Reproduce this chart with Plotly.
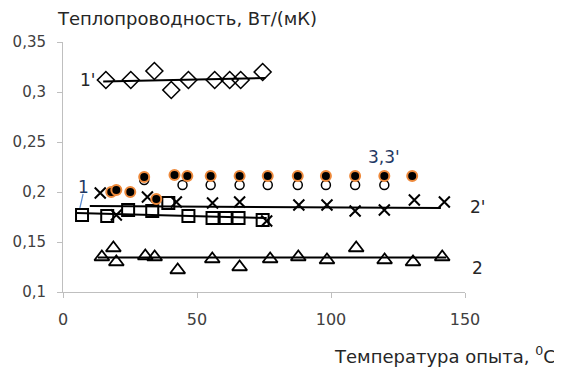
import plotly.graph_objects as go

# Series 1' (diamonds)
x1p = [16.0, 25.3, 34.1, 40.4, 46.8, 56.6, 62.2, 66.3, 74.5]
y1p = [0.312, 0.312, 0.321, 0.302, 0.312, 0.312, 0.312, 0.312, 0.320]
# Series 1 (squares)
x1 = [7.1, 16.5, 24.3, 33.3, 39.3, 46.8, 55.8, 60.7, 65.5, 74.5]
y1 = [0.177, 0.176, 0.182, 0.181, 0.189, 0.176, 0.174, 0.174, 0.174, 0.172]
# Series 2' (crosses)
x2p = [13.9, 19.9, 31.5, 42.3, 55.8, 65.9, 76.0, 88.0, 98.5, 109.0, 119.9, 131.1, 142.3]
y2p = [0.199, 0.177, 0.195, 0.190, 0.189, 0.190, 0.171, 0.187, 0.187, 0.181, 0.182, 0.192, 0.190]
# Series 2 (triangles)
x2 = [14.5, 18.8, 19.9, 30.7, 34.2, 42.8, 55.7, 65.9, 77.3, 87.8, 98.5, 109.4, 120.0, 130.6, 141.5]
y2 = [0.135, 0.144, 0.130, 0.136, 0.135, 0.122, 0.133, 0.125, 0.133, 0.135, 0.132, 0.144, 0.132, 0.130, 0.135]
# Series 3 (filled dots)
x3 = [18.0, 19.9, 25.1, 30.3, 34.8, 41.6, 46.4, 55.1, 65.9, 76.4, 87.6, 98.1, 109.0, 119.9, 130.3]
y3 = [0.200, 0.202, 0.200, 0.215, 0.193, 0.217, 0.216, 0.216, 0.216, 0.216, 0.216, 0.216, 0.216, 0.216, 0.216]
# Series 3' (open circles)
x3p = [30.3, 44.6, 55.1, 65.9, 76.4, 87.6, 98.1, 109.0, 119.9]
y3p = [0.212, 0.207, 0.207, 0.207, 0.207, 0.207, 0.207, 0.207, 0.207]

# Trend lines (endpoints)
t1p_x = [15.0, 75.5]; t1p_y = [0.3105, 0.314]
t1_x = [5.0, 76.0]; t1_y = [0.179, 0.174]
t2p_x = [10.0, 141.0]; t2p_y = [0.186, 0.184]
t2_x = [13.0, 143.0]; t2_y = [0.1345, 0.1345]

x_ticks = [0, 50, 100, 150]
y_ticks = [0.1, 0.15, 0.2, 0.25, 0.3, 0.35]
y_tick_text = ["0,1", "0,15", "0,2", "0,25", "0,3", "0,35"]

FONT = "DejaVu Sans"
fig = go.Figure()

def line(xs, ys):
    fig.add_trace(go.Scatter(x=xs, y=ys, mode="lines", line=dict(color="black", width=2),
                             showlegend=False, hoverinfo="skip"))

line(t1p_x, t1p_y)
line(t1_x, t1_y)
line(t2p_x, t2p_y)
line(t2_x, t2_y)

fig.add_trace(go.Scatter(x=x1p, y=y1p, mode="markers",
                         marker=dict(symbol="diamond-open", size=13, color="black", line=dict(width=1.6)),
                         showlegend=False))
fig.add_trace(go.Scatter(x=x1, y=y1, mode="markers",
                         marker=dict(symbol="square-open", size=12, color="black", line=dict(width=2)),
                         showlegend=False))
fig.add_trace(go.Scatter(x=x2, y=y2, mode="markers",
                         marker=dict(symbol="triangle-up-open", size=13, color="black", line=dict(width=1.8)),
                         showlegend=False))
fig.add_trace(go.Scatter(x=x2p, y=y2p, mode="markers",
                         marker=dict(symbol="x-thin-open", size=11, color="black", line=dict(width=2, color="black")),
                         showlegend=False))
fig.add_trace(go.Scatter(x=x3p, y=y3p, mode="markers",
                         marker=dict(symbol="circle-open", size=9, color="black", line=dict(width=1.5)),
                         showlegend=False))
fig.add_trace(go.Scatter(x=x3, y=y3, mode="markers",
                         marker=dict(symbol="circle", size=10, color="black", line=dict(width=2, color="#ee8a3c")),
                         showlegend=False))

# leader line for label "1"
fig.add_trace(go.Scatter(x=[7.5, 6.3], y=[0.198, 0.184], mode="lines",
                         line=dict(color="#5b8bd0", width=1.2), showlegend=False, hoverinfo="skip"))

ann_font = dict(family=FONT, size=17, color="#262626")
blue_font = dict(family=FONT, size=17, color="#1f3864")
annotations = [
    dict(x=9.3, y=0.3125, text="1'", showarrow=False, font=ann_font, xanchor="center"),
    dict(x=7.5, y=0.205, text="1", showarrow=False, font=blue_font, xanchor="center"),
    dict(x=119.6, y=0.2355, text="3,3'", showarrow=False, font=blue_font, xanchor="center"),
    dict(x=1.032, y=0.34, xref="paper", yref="paper", text="2'", showarrow=False, font=ann_font,
         xanchor="center", yanchor="middle"),
    dict(x=1.032, y=0.096, xref="paper", yref="paper", text="2", showarrow=False, font=ann_font,
         xanchor="center", yanchor="middle"),
    dict(x=-0.02, y=1.095, xref="paper", yref="paper", text="Теплопроводность, Вт/(мК)",
         showarrow=False, xanchor="left", yanchor="middle", font=dict(family=FONT, size=18, color="#262626")),
    dict(x=1.231, y=-0.252, xref="paper", yref="paper", text="Температура опыта, <sup>0</sup>C",
         showarrow=False, xanchor="right", yanchor="middle", font=dict(family=FONT, size=18, color="#262626")),
]

fig.update_layout(
    width=562, height=367,
    margin=dict(l=55, r=105, t=34, b=83),
    paper_bgcolor="white", plot_bgcolor="white",
    annotations=annotations,
    xaxis=dict(range=[0, 150], tickvals=x_ticks, showgrid=False, zeroline=False, automargin=False,
               showline=True, linecolor="#bfbfbf", linewidth=1, ticks="outside", ticklen=5,
               tickcolor="#bfbfbf", ticklabelstandoff=8,
               tickfont=dict(family=FONT, size=16, color="#404040")),
    yaxis=dict(range=[0.1, 0.35], tickvals=y_ticks, ticktext=y_tick_text, showgrid=False, zeroline=False,
               automargin=False,
               showline=True, linecolor="#bfbfbf", linewidth=1, ticks="outside", ticklen=5,
               tickcolor="#bfbfbf", ticklabelstandoff=8,
               tickfont=dict(family=FONT, size=15, color="#404040")),
)

fig.write_html("out.html")
